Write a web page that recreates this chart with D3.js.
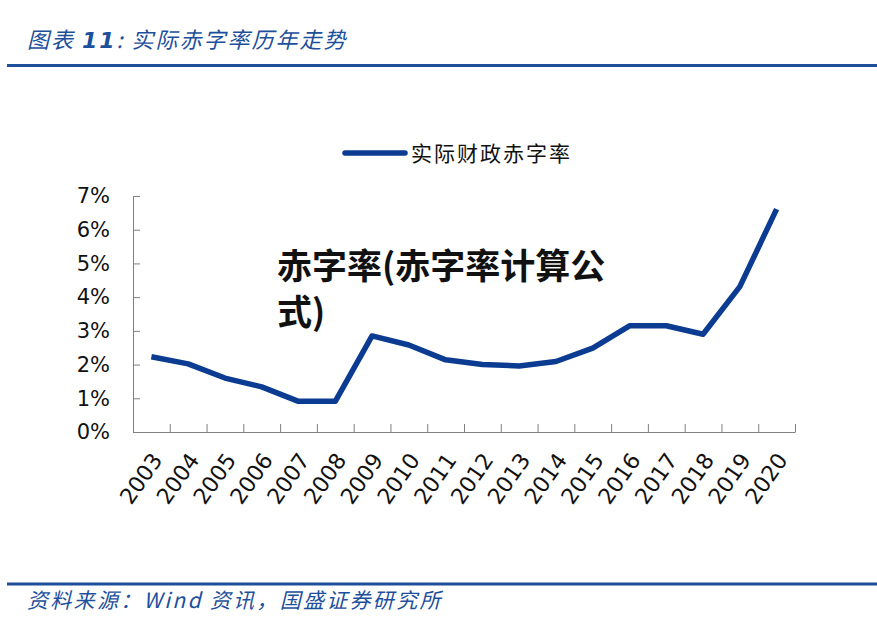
<!DOCTYPE html>
<html>
<head>
<meta charset="utf-8">
<script src="https://cdn.jsdelivr.net/npm/d3@7"></script>
<style>
  body { margin: 0; background: #fff; }
  svg { display: block; }
</style>
</head>
<body>
<svg width="877" height="628"></svg>
<script>
// data
var years = ["2003", "2004", "2005", "2006", "2007", "2008", "2009", "2010", "2011",
             "2012", "2013", "2014", "2015", "2016", "2017", "2018", "2019", "2020"];
var deficit = [0.0223, 0.0202, 0.0160, 0.0134, 0.0091, 0.0091, 0.0285, 0.0258, 0.0214,
               0.0200, 0.0196, 0.0209, 0.0249, 0.0315, 0.0315, 0.0290, 0.0431, 0.0661];
var yTicks = [0, 0.01, 0.02, 0.03, 0.04, 0.05, 0.06, 0.07];
var seriesName = "实际财政赤字率";

var svg = d3.select("svg");
var blue = "#1d4f9c";
var lineBlue = "#0b3c91";

var plotL = 133, plotR = 795, plotT = 196, plotB = 432;

var x = d3.scaleBand().domain(years).range([plotL, plotR]).padding(0);
var y = d3.scaleLinear().domain([0, 0.07]).range([plotB, plotT]);
// boundaries between categories, for the tick marks
var xb = d3.scaleLinear().domain([0, years.length]).range([plotL, plotR]);

// header and footer
var title = svg.append("text")
  .attr("x", 27).attr("y", 48)
  .style("font-family", "'Noto Sans CJK SC'")
  .style("font-style", "italic")
  .style("font-size", "22px")
  .style("letter-spacing", "2px")
  .style("fill", blue);
title.append("tspan").text("图表 ");
title.append("tspan").style("font-weight", "bold").style("font-family", "'DejaVu Sans'").text("11");
title.append("tspan").text(":  实际赤字率历年走势");

svg.append("line")
  .attr("x1", 7).attr("x2", 877).attr("y1", 65.5).attr("y2", 65.5)
  .style("stroke", blue).style("stroke-width", 3);

svg.append("line")
  .attr("x1", 7).attr("x2", 877).attr("y1", 584).attr("y2", 584)
  .style("stroke", blue).style("stroke-width", 3);

svg.append("text")
  .attr("x", 27).attr("y", 608)
  .style("font-family", "'Noto Sans CJK SC'")
  .style("font-style", "italic")
  .style("font-size", "21px")
  .style("letter-spacing", "2.3px")
  .style("fill", blue)
  .text("资料来源：Wind 资讯，国盛证券研究所");

// y axis
var yAxis = svg.append("g")
  .attr("transform", "translate(" + plotL + ",0)")
  .call(d3.axisLeft(y).tickValues(yTicks).tickFormat(d3.format(".0%"))
        .tickSizeInner(-7).tickSizeOuter(0).tickPadding(23));
yAxis.selectAll("text")
  .style("font-family", "'DejaVu Sans'").style("font-size", "21px").style("fill", "#111");
yAxis.selectAll("line, path").style("stroke", "#7f7f7f");

// x axis: tick marks at category boundaries
var xTickAxis = svg.append("g")
  .attr("transform", "translate(0," + plotB + ")")
  .call(d3.axisBottom(xb).tickValues(d3.range(1, years.length + 1))
        .tickSizeInner(-8).tickSizeOuter(0).tickFormat(""));
xTickAxis.selectAll("line, path").style("stroke", "#7f7f7f");

// x labels rotated
var xLab = svg.append("g")
  .attr("transform", "translate(0," + plotB + ")")
  .call(d3.axisBottom(x).tickSize(0).tickPadding(0));
xLab.select(".domain").remove();
xLab.selectAll("text")
  .style("font-family", "'DejaVu Sans'").style("font-size", "22px").style("fill", "#111")
  .attr("text-anchor", "end")
  .attr("y", 0)
  .attr("dy", 0)
  .attr("transform", "translate(12,28) rotate(-55)");

// line
var line = d3.line()
  .x(function(d, i) { return x(years[i]) + x.bandwidth() / 2; })
  .y(function(d) { return y(d); });

svg.append("path")
  .datum(deficit)
  .attr("d", line)
  .style("fill", "none")
  .style("stroke", lineBlue)
  .style("stroke-width", 5.5)
  .style("stroke-linejoin", "round")
  .style("stroke-linecap", "butt");

// legend
var lg = svg.append("g").attr("transform", "translate(345,153)");
lg.append("line")
  .attr("x1", 0).attr("x2", 60)
  .style("stroke", lineBlue).style("stroke-width", 5.5).style("stroke-linecap", "round");
lg.append("text")
  .attr("x", 66).attr("y", 8)
  .style("font-family", "'Noto Sans CJK SC'")
  .style("font-size", "21px")
  .style("letter-spacing", "2px")
  .style("fill", "#111")
  .text(seriesName);

// overlaid headline
var head = svg.append("text")
  .style("font-family", "'Noto Sans CJK SC'")
  .style("font-weight", "bold")
  .style("font-size", "35px")
  .style("fill", "#111");
head.append("tspan").attr("x", 277).attr("y", 279).text("赤字率(赤字率计算公");
head.append("tspan").attr("x", 277).attr("y", 325).text("式)");
</script>
</body>
</html>
